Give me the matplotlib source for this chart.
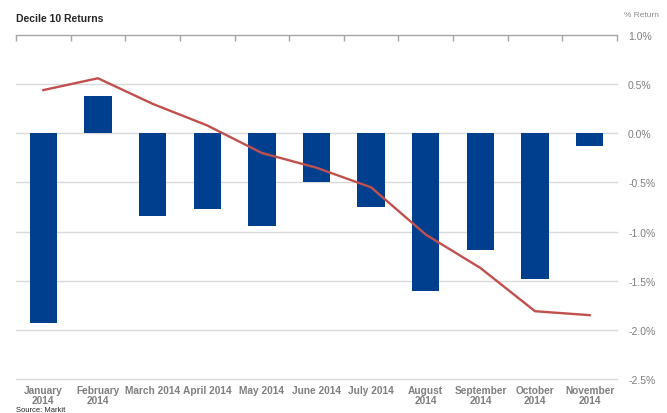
import numpy as np
import matplotlib.pyplot as plt
from matplotlib.ticker import FixedLocator

plt.rcParams['font.family'] = ['Liberation Sans', 'DejaVu Sans']

months = ["January\n2014", "February\n2014", "March 2014", "April 2014", "May 2014",
          "June 2014", "July 2014", "August\n2014", "September\n2014", "October\n2014",
          "November\n2014"]
bar_values = [-1.93, 0.38, -0.84, -0.77, -0.94, -0.50, -0.75, -1.60, -1.19, -1.48, -0.13]
line_values = [0.44, 0.56, 0.30, 0.08, -0.20, -0.35, -0.55, -1.03, -1.37, -1.81, -1.85]
y_ticks = [1.0, 0.5, 0.0, -0.5, -1.0, -1.5, -2.0, -2.5]

fig = plt.figure(figsize=(6.67, 4.14), dpi=100)
ax = fig.add_axes([0.024, 0.082, 0.901, 0.831])

x = np.arange(len(months))
ax.bar(x, bar_values, width=0.5, color="#003E8E", zorder=2)
ax.plot(x, line_values, color="#C0504D", lw=1.7, zorder=3)

ax.set_xlim(-0.5, len(months) - 0.5)
ax.set_ylim(-2.5, 1.0)

# grid (drawn by hand so the -2.5% line at the edge shows)
for v in y_ticks[1:]:
    ax.axhline(v, color="#D9D9D9", lw=1.0, zorder=0, clip_on=False)
ax.set_yticks(y_ticks)
ax.set_yticklabels(["%.1f%%" % v for v in y_ticks])
ax.yaxis.tick_right()
ax.tick_params(axis="y", length=0, pad=8, labelsize=7.5, labelcolor="#7F7F7F")

ax.set_xticks(x)
ax.set_xticklabels(months, linespacing=1.0)
ax.tick_params(axis="x", which="major", length=0, pad=4, labelsize=7.3,
               labelcolor="#7F7F7F")
for lbl in ax.get_xticklabels():
    lbl.set_fontweight("bold")
ax.xaxis.set_minor_locator(FixedLocator(np.arange(-0.5, len(months), 1.0)))
ax.tick_params(axis="x", which="minor", top=True, bottom=False, direction="in",
               length=4, color="#A6A6A6", width=1)

for side in ["left", "right", "bottom"]:
    ax.spines[side].set_visible(False)
ax.spines["top"].set_color("#A6A6A6")
ax.spines["top"].set_linewidth(1.0)

fig.text(0.024, 0.955, "Decile 10 Returns", fontsize=7.5, fontweight="bold",
         color="#262626", ha="left", va="center")
fig.text(0.962, 0.962, "% Return", fontsize=6, color="#8C8C8C", ha="center", va="center")
fig.text(0.024, 0.001, "Source: Markit", fontsize=5.5, color="#262626", ha="left", va="bottom")

fig.savefig("out.png", dpi=100)
